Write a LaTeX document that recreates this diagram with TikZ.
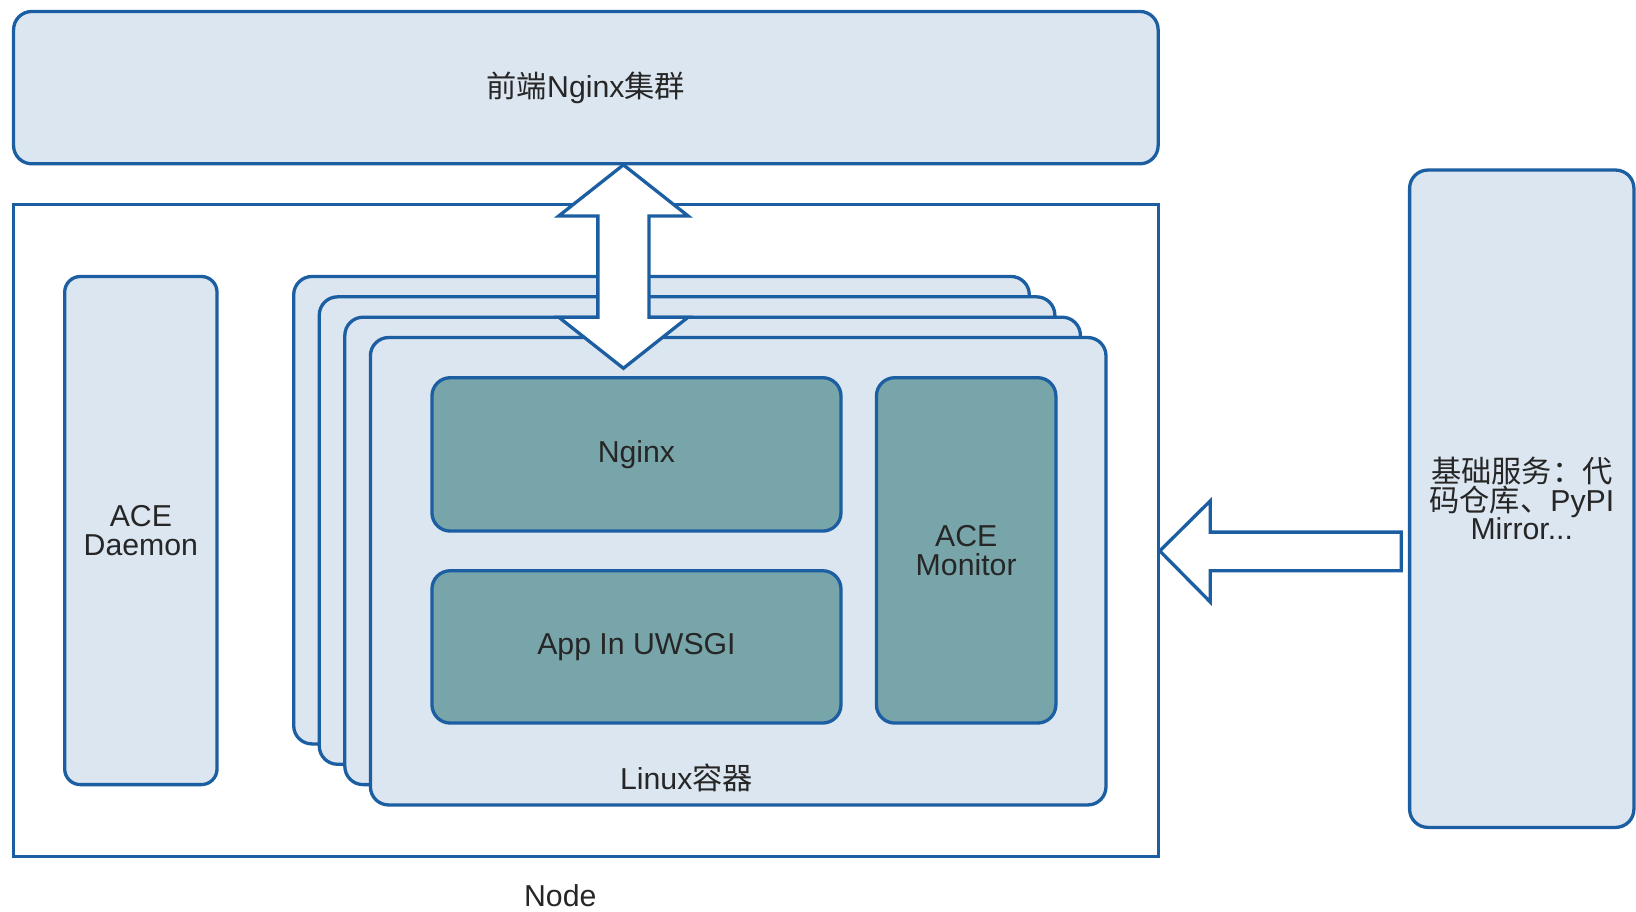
\documentclass[tikz,border=0pt]{standalone}
\usepackage{fontspec}
\setmainfont{Liberation Sans}
\newfontfamily\cjk{Noto Sans CJK SC}
\definecolor{edgeblue}{HTML}{1B5EA1}
\definecolor{paleblue}{HTML}{DCE6F1}
\definecolor{greyteal}{HTML}{78A5AA}

\begin{document}
\begin{tikzpicture}[
        lightbox/.style={draw=edgeblue, line width=1.8pt, fill=paleblue, rounded corners=0.35cm},
        tealbox/.style={draw=edgeblue, line width=1.8pt, fill=greyteal, rounded corners=0.35cm},
        bigarrow/.style={draw=edgeblue, line width=1.8pt, fill=white},
        font=\fontsize{16.5}{15.5}\selectfont, text=black!85]
        \useasboundingbox (0,0) rectangle (31.36,17.48);

        \node[lightbox, minimum width=21.94cm, minimum height=2.92cm] (cluster) at (11.23, 15.8) {{\cjk 前端}Nginx{\cjk 集群}};
        \node[draw=edgeblue, line width=1.8pt, fill=white, minimum width=21.94cm, minimum height=12.5cm] (node) at (11.23, 7.31) {};
        \node (nodename) at (10.74, 0.32) {Node};

        \node[lightbox, rounded corners=0.3cm, minimum width=2.92cm, minimum height=9.74cm, align=center] (daemon) at (2.7, 7.31) {ACE\\Daemon};

        % stacked containers, back to front
        \foreach \i in {3,2,1}
            \node[lightbox, minimum width=14.1cm, minimum height=8.96cm] (layer\i) at ({14.15-0.49*\i}, {6.53+0.39*\i}) {};
        \node[lightbox, minimum width=14.1cm, minimum height=8.96cm] (linux) at (14.15, 6.53) {};
        \node (linuxname) at (13.16, 2.56) {Linux{\cjk 容器}};

        \node[tealbox, minimum width=7.84cm, minimum height=2.94cm] (nginx) at (12.2, 8.77) {Nginx};
        \node[tealbox, minimum width=7.84cm, minimum height=2.92cm] (app) at (12.2, 5.08) {App In UWSGI};
        \node[tealbox, minimum width=3.44cm, minimum height=6.62cm, align=center] (monitor) at (18.52, 6.93) {ACE\\Monitor};

        \node[lightbox, minimum width=4.3cm, minimum height=12.6cm, align=center] (infra) at (29.17, 7.92) {{\cjk 基础服务：代}\\{\cjk 码仓库、}PyPI\\Mirror...};

        % block arrows
        \coordinate (uptip) at (11.95, 14.32);
        \coordinate (downtip) at (11.95, 10.42);
        \draw[bigarrow] (uptip) -- (13.19, 13.34) -- (12.44, 13.34) -- (12.44, 11.4) -- (13.19, 11.4)
            -- (downtip) -- (10.71, 11.4) -- (11.46, 11.4) -- (11.46, 13.34) -- (10.71, 13.34) -- cycle;
        \coordinate (lefttip) at (node.east |- 0, 6.92);
        \draw[bigarrow] (lefttip) -- (23.2, 7.88) -- (23.2, 7.28) -- (26.86, 7.28) -- (26.86, 6.54)
            -- (23.2, 6.54) -- (23.2, 5.94) -- cycle;
    \end{tikzpicture}
\end{document}
